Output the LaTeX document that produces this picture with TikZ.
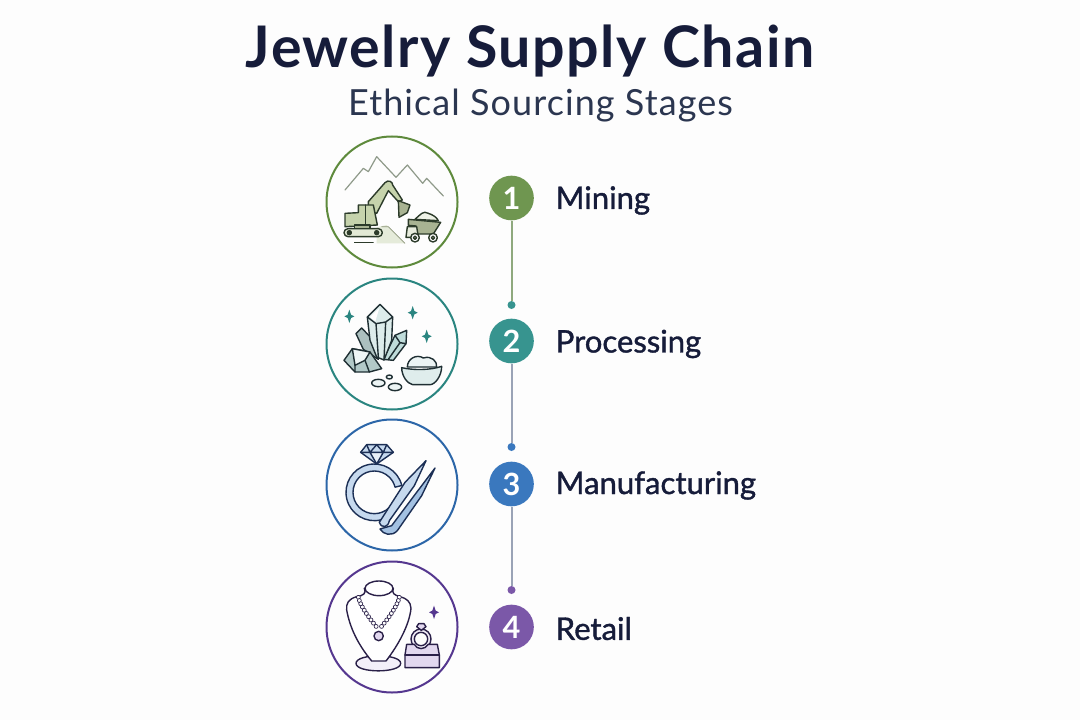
\documentclass[tikz,border=0pt]{standalone}
\usepackage{fontspec}
\setmainfont{Lato}
\definecolor{navy}{HTML}{161C3A}
\definecolor{subnavy}{HTML}{2B3650}
\definecolor{paper}{HTML}{FDFDFD}
\definecolor{mgreen}{HTML}{6F9650}
\definecolor{mteal}{HTML}{37948F}
\definecolor{mblue}{HTML}{3A78BE}
\definecolor{mpurple}{HTML}{7B58A8}
\definecolor{rgreen}{HTML}{5E8A3C}
\definecolor{rteal}{HTML}{2A8580}
\definecolor{rblue}{HTML}{2C66A8}
\definecolor{rpurple}{HTML}{55378F}
\definecolor{lgreen}{HTML}{C6D3AC}
\definecolor{lteal}{HTML}{BFDCDA}
\definecolor{lblue}{HTML}{C6D9EE}
\definecolor{lpurple}{HTML}{E2D8EF}
\definecolor{inkgreen}{HTML}{2C3B2A}
\definecolor{inkteal}{HTML}{1F2F33}
\definecolor{inkblue}{HTML}{1C2F55}
\definecolor{inkpurple}{HTML}{2A2048}
\definecolor{peak}{HTML}{8F9A8A}
\definecolor{linkgreen}{HTML}{8FA97E}
\definecolor{linkgray}{HTML}{9AA3B6}
\newcommand{\sparkle}[3]{\fill[#3] (#1-15,#2) -- (#1-5,#2-5) -- (#1,#2-20) -- (#1+5,#2-5) -- (#1+15,#2) -- (#1+5,#2+5) -- (#1,#2+20) -- (#1-5,#2+5) -- cycle;}
\begin{document}
\begin{tikzpicture}[
      x=0.75pt,y=-0.75pt,
      icon/.style={draw,circle,minimum size=98.25pt,inner sep=0pt,line width=1.5pt},
      num/.style={circle,minimum size=33.5pt,inner sep=0pt,text=white,font=\fontsize{23}{23}\bfseries},
      dot/.style={circle,minimum size=6pt,inner sep=0pt},
      lab/.style={anchor=west,text=navy,font=\fontsize{23.3}{25}\selectfont\addfontfeatures{FakeBold=1.2}},
      link/.style={line width=1.5pt},
      ink/.style={line width=1.05pt,line join=round,line cap=round},
    ]
    \useasboundingbox[fill=paper] (0,0) rectangle (1080,720);
    \node[text=navy,font=\fontsize{43}{46}\bfseries\addfontfeatures{LetterSpace=2.6}] (title) at (530,51) {Jewelry Supply Chain};
    \node[text=subnavy,font=\fontsize{27}{29}\selectfont\addfontfeatures{LetterSpace=3}] (sub) at (540.5,106) {Ethical Sourcing Stages};
    % circles round the icons
    \node[icon,draw=rgreen] (icon1) at (392,202) {};
    \node[icon,draw=rteal] (icon2) at (392,344) {};
    \node[icon,draw=rblue] (icon3) at (392,485) {};
    \node[icon,draw=rpurple] (icon4) at (392,627) {};
    % timeline
    \node[num,fill=mgreen] (s1) at (511.5,198) {1};
    \node[num,fill=mteal] (s2) at (511.5,341) {2};
    \node[num,fill=mblue] (s3) at (511.5,484) {3};
    \node[num,fill=mpurple] (s4) at (511.5,627) {4};
    \node[dot,fill=mteal] (d2) at (511.5,305) {};
    \node[dot,fill=mblue] (d3) at (511.5,447) {};
    \node[dot,fill=mpurple] (d4) at (511.5,590) {};
    \draw[link,color=linkgreen] (s1) -- (d2);
    \draw[link,color=linkgray] (s2) -- (d3);
    \draw[link,color=linkgray] (s3) -- (d4);
    \node[lab] (l1) at (551,200.5) {Mining};
    \node[lab] (l2) at (551,344) {Processing};
    \node[lab] (l3) at (551,485.5) {Manufacturing};
    \node[lab] (l4) at (551,628.5) {Retail};
    % mining
    \begin{scope}[shift={(320,130)},x=0.25pt,y=-0.25pt,ink,draw=inkgreen]
      \draw[color=peak,line width=0.9pt] (75,180) -- (130,115) -- (145,125) -- (170,80) -- (228,142) -- (262,105) -- (308,160) -- (320,145) -- (370,198);
      \fill[lgreen!45] (170,292) -- (200,285) -- (255,340) -- (170,340) -- cycle;
      \draw[line width=0.5pt,color=lgreen!70!black] (185,290) -- (205,290) -- (255,340);
      \draw[line width=0.5pt] (103,338) -- (160,338);
      % excavator
      \draw[fill=lgreen] (145,245) -- (145,215) -- (195,158) .. controls (205,148) and (218,155) .. (218,165) -- (247,210) -- (235,215) -- (205,182) -- (170,250) -- cycle;
      \draw[fill=lgreen!85!black] (235,212) -- (270,225) -- (262,248) -- (237,262) -- cycle;
      \draw[fill=lgreen] (75,250) -- (115,248) -- (115,225) -- (160,225) -- (172,285) -- (75,290) -- cycle;
      \draw (137,225) -- (137,285);
      \draw[fill=lgreen!50,rounded corners=3pt] (72,296) rectangle (187,320);
      \draw[fill=inkgreen] (88,308) circle (6) (170,308) circle (6);
      \draw[fill=lgreen!85!black] (104,285) rectangle (150,296);
      % dump truck
      \draw[fill=lgreen!30] (285,268) .. controls (300,255) and (310,240) .. (325,250) .. controls (340,255) and (350,262) .. (355,272) -- cycle;
      \draw[fill=lgreen!85!black] (265,268) -- (362,277) -- (340,312) -- (292,312) -- (288,288) -- (265,286) -- cycle;
      \draw[fill=lgreen!40] (262,290) -- (290,290) -- (295,322) -- (258,322) -- cycle;
      \draw[fill=white] (285,323) circle (13) (339,323) circle (13);
      \draw[fill=lgreen!85!black] (285,323) circle (5) (339,323) circle (5);
    \end{scope}
    % processing
    \begin{scope}[shift={(320,272)},x=0.25pt,y=-0.25pt,ink,draw=inkteal]
      \draw[fill=lteal!70!gray] (108,185) -- (125,168) -- (148,192) -- (175,262) -- (130,232) -- cycle;
      \draw[fill=lteal] (190,262) -- (225,190) -- (260,175) -- (258,215) -- (220,265) -- cycle;
      \draw (225,190) -- (240,212) -- (258,215) (240,212) -- (205,262);
      \draw[fill=lteal!55] (180,97) -- (218,135) -- (215,205) -- (192,264) -- (170,255) -- (150,205) -- (142,135) -- cycle;
      \draw (142,135) -- (168,155) -- (197,150) -- (218,135) (168,155) -- (175,255) (197,150) -- (192,264);
      \fill[white] (150,135) -- (178,108) -- (166,148) -- cycle;
      \draw[fill=lteal!80!gray] (72,265) -- (97,230) -- (150,240) -- (185,290) -- (148,300) -- (105,300) -- cycle;
      \draw[fill=lteal!25] (97,230) -- (150,240) -- (135,265) -- (105,280) -- cycle;
      \draw (105,280) -- (105,300) (135,265) -- (148,300);
      \draw[fill=lteal!30] (262,285) .. controls (262,260) and (290,245) .. (310,258) .. controls (335,250) and (352,268) .. (350,285) -- cycle;
      \draw[fill=lteal!50] (245,287) .. controls (280,295) and (330,295) .. (365,283) .. controls (365,312) and (345,338) .. (330,338) -- (278,338) .. controls (262,335) and (245,312) .. (245,287) -- cycle;
      \draw[fill=lteal!30] (175,333) ellipse (20 and 11) (225,345) ellipse (20 and 11) (208,315) ellipse (9 and 6);
      \sparkle{88}{133}{rteal}
      \sparkle{278}{122}{rteal}
      \sparkle{320}{193}{rteal}
    \end{scope}
    % manufacturing
    \begin{scope}[shift={(320,414)},x=0.25pt,y=-0.25pt,ink,draw=inkblue]
      \draw[fill=lblue] ({163+85*cos(14)},{235-85*sin(14)}) arc[start angle=-14,end angle=-315,radius=85] -- ({163+64*cos(45)},{235+64*sin(45)}) arc[start angle=-315,end angle=-14,radius=64] -- cycle;
      \draw[fill=lblue] (122,115) -- (140,92) -- (200,92) -- (220,115) -- (170,150) -- cycle;
      \fill[lblue!40] (150,115) -- (190,115) -- (170,150) -- cycle;
      \draw (122,115) -- (220,115) (140,92) -- (150,115) -- (170,150) -- (190,115) -- (200,92) (150,115) -- (170,92) -- (190,115);
      \draw[fill=lblue!75!mblue] (215,335) -- (290,235) -- (345,162) -- (305,245) -- (232,350) .. controls (215,368) and (190,362) .. (180,345) -- cycle;
      \draw[fill=lblue] (178,325) -- (255,205) -- (318,140) -- (283,215) -- (208,320) .. controls (205,340) and (185,345) .. (178,325) -- cycle;
    \end{scope}
    % retail
    \begin{scope}[shift={(320,555)},x=0.25pt,y=-0.25pt,ink,draw=inkpurple]
      \draw[fill=lpurple!40] (108,325) .. controls (108,295) and (242,295) .. (242,325) .. controls (242,355) and (108,355) .. (108,325) -- cycle;
      \draw[fill=white] (133,100) .. controls (140,115) and (130,122) .. (110,125) .. controls (85,132) and (78,145) .. (80,165) .. controls (90,220) and (115,270) .. (155,318) -- (198,318) .. controls (235,270) and (268,210) .. (273,160) .. controls (272,140) and (260,130) .. (240,125) .. controls (222,120) and (215,115) .. (220,100) -- cycle;
      \draw[fill=white] (177,100) ellipse (42 and 22);
      \foreach \t in {0.02,0.12,...,0.95} {
        \draw[fill=white,line width=0.5pt] ({115+60*pow(\t,1.4)},{125+97*\t}) circle (6);
        \draw[fill=white,line width=0.5pt] ({238-60*pow(\t,1.4)},{125+97*\t}) circle (6);
      }
      \draw[fill=lpurple] (176,243) circle (14);
      \draw[fill=lpurple!50,even odd rule] (303,252) circle (30) (303,252) circle (20);
      \draw[fill=lpurple] (290,215) -- (296,206) -- (312,206) -- (318,215) -- (304,226) -- cycle;
      \draw[fill=lpurple] (255,300) -- (260,268) -- (283,268) .. controls (290,285) and (316,285) .. (325,268) -- (352,268) -- (358,300) -- (358,338) -- (255,338) -- cycle;
      \draw (255,300) -- (358,300);
      \sparkle{342}{172}{rpurple}
    \end{scope}
  \end{tikzpicture}
\end{document}
